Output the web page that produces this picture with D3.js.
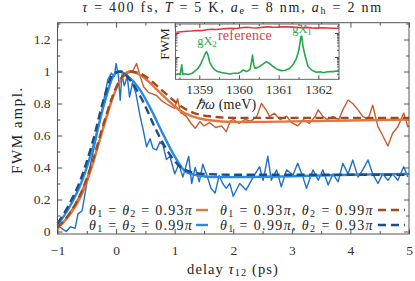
<!DOCTYPE html>
<html>
<head>
<meta charset="utf-8">
<script src="https://cdn.jsdelivr.net/npm/d3@7"></script>
<style>
    body { margin:0; background:#fff; }
    svg { display:block; }
    .axis path { display:none; }
    .axis line { stroke:#555; }
</style>
<script>
// main panel: delay (ps) vs FWM amplitude
var xTicks = [-1, 0, 1, 2, 3, 4, 5];
var xMinor = [-0.5, 0.5, 1.5, 2.5, 3.5, 4.5];
var yTicks = [0, 0.2, 0.4, 0.6, 0.8, 1, 1.2];
var yMinor = [0.1, 0.3, 0.5, 0.7, 0.9, 1.1, 1.3];

// smooth simulations
var oSolidT = [-1,-0.8,-0.6,-0.4,-0.2,0,0.1,0.22,0.35,0.5,0.7,0.9,1.1,1.3,1.6,2,3,4,5];
var oSolidV = [0.02,0.10,0.22,0.42,0.67,0.89,0.96,1.0,0.99,0.955,0.885,0.815,0.755,0.72,0.695,0.684,0.688,0.694,0.70];
var oDashT  = [-1,-0.8,-0.6,-0.4,-0.2,0,0.1,0.22,0.35,0.5,0.7,0.9,1.1,1.3,1.6,2,3,4,5];
var oDashV  = [0.025,0.11,0.24,0.44,0.69,0.90,0.965,1.0,0.995,0.97,0.91,0.845,0.785,0.745,0.72,0.71,0.71,0.71,0.71];
var bSolidT = [-1,-0.8,-0.6,-0.4,-0.2,-0.05,0.05,0.2,0.4,0.6,0.8,1.0,1.2,1.4,1.7,2,3,4,5];
var bSolidV = [0.04,0.15,0.30,0.52,0.80,0.97,1.0,0.97,0.89,0.76,0.61,0.47,0.37,0.35,0.34,0.34,0.345,0.355,0.36];
var bDashT  = [-1,-0.8,-0.6,-0.4,-0.2,-0.05,0.08,0.25,0.45,0.65,0.85,1.05,1.25,1.5,2,3,4,5];
var bDashV  = [0.05,0.17,0.33,0.56,0.84,0.985,1.0,0.94,0.82,0.66,0.52,0.42,0.375,0.36,0.355,0.355,0.355,0.355];

// noisy traces
var oNoisyT = [-1,-0.9,-0.8,-0.7,-0.6,-0.5,-0.4,-0.3,-0.2,-0.1,0,0.1,0.2,0.28,0.35,0.42,0.47,0.55,0.62,0.69,0.77,0.85,0.92,1.0,1.05,1.1,1.2,1.28,1.35,1.43,1.5,1.6,1.7,1.8,1.88,1.95,2.0,2.1,2.2,2.3,2.4,2.48,2.56,2.62,2.7,2.8,2.91,3.0,3.1,3.2,3.3,3.4,3.45,3.53,3.6,3.7,3.8,3.87,3.96,4.04,4.13,4.21,4.3,4.38,4.47,4.55,4.64,4.72,4.81,4.91,4.98,5.0];
var oNoisyV = [0.03,0.06,0.11,0.17,0.24,0.33,0.43,0.55,0.68,0.80,0.89,0.96,0.99,1.0,1.05,0.96,0.905,0.87,0.86,0.85,0.82,0.80,0.785,0.77,0.83,0.745,0.72,0.675,0.645,0.687,0.66,0.68,0.65,0.66,0.624,0.69,0.70,0.676,0.70,0.69,0.718,0.80,0.76,0.72,0.739,0.70,0.72,0.68,0.66,0.70,0.676,0.72,0.76,0.72,0.70,0.718,0.70,0.76,0.822,0.80,0.76,0.72,0.70,0.79,0.655,0.60,0.534,0.614,0.655,0.74,0.655,0.66];
var bNoisyT = [-1,-0.93,-0.85,-0.78,-0.7,-0.65,-0.58,-0.5,-0.42,-0.34,-0.26,-0.2,-0.14,-0.08,-0.03,0,0.04,0.07,0.1,0.14,0.19,0.23,0.28,0.34,0.41,0.46,0.52,0.58,0.63,0.69,0.75,0.8,0.86,0.92,1.0,1.07,1.14,1.24,1.29,1.35,1.42,1.48,1.55,1.62,1.69,1.76,1.82,1.88,1.94,2.0,2.11,2.22,2.34,2.45,2.51,2.59,2.65,2.74,2.82,2.91,3.02,3.1,3.19,3.25,3.36,3.45,3.53,3.62,3.7,3.79,3.87,3.96,4.04,4.13,4.21,4.3,4.38,4.47,4.55,4.64,4.72,4.81,4.91,4.98];
var bNoisyV = [0.04,0.02,0.0,0.03,0.02,0.11,0.13,0.30,0.45,0.58,0.72,0.84,0.95,0.99,0.97,1.05,0.97,0.82,0.98,0.91,0.97,0.84,0.93,0.86,0.72,0.64,0.53,0.58,0.52,0.51,0.56,0.54,0.45,0.47,0.36,0.42,0.34,0.47,0.30,0.40,0.31,0.42,0.35,0.27,0.24,0.35,0.30,0.27,0.30,0.22,0.30,0.26,0.34,0.405,0.32,0.47,0.32,0.385,0.28,0.385,0.353,0.426,0.34,0.27,0.385,0.32,0.385,0.29,0.36,0.31,0.426,0.36,0.447,0.34,0.385,0.447,0.36,0.30,0.36,0.32,0.36,0.32,0.405,0.34];

// inset: spectrum (meV), log amplitude
var iTicks = [1359, 1360, 1361, 1362];
var iMinor = [1358.5, 1359.5, 1360.5, 1361.5, 1362.5];
var gE = [1358.42,1358.47,1358.52,1358.555,1358.585,1358.64,1358.7,1358.76,1358.82,1358.88,1358.95,1359.02,1359.1,1359.15,1359.18,1359.22,1359.26,1359.32,1359.39,1359.46,1359.56,1359.66,1359.77,1359.87,1359.98,1360.05,1360.1,1360.15,1360.19,1360.24,1360.28,1360.32,1360.34,1360.37,1360.4,1360.46,1360.52,1360.6,1360.69,1360.76,1360.86,1360.96,1361.07,1361.17,1361.28,1361.37,1361.45,1361.51,1361.56,1361.58,1361.61,1361.66,1361.74,1361.84,1361.95,1362.05,1362.12,1362.2,1362.3,1362.38,1362.46,1362.52];
var gV = [0.018,0.020,0.0185,0.047,0.019,0.020,0.0185,0.0195,0.021,0.025,0.031,0.045,0.089,0.14,0.166,0.12,0.063,0.04,0.029,0.025,0.0224,0.021,0.0195,0.021,0.021,0.024,0.029,0.027,0.0245,0.027,0.031,0.07,0.12,0.05,0.034,0.036,0.04,0.05,0.063,0.055,0.04,0.031,0.027,0.028,0.034,0.05,0.089,0.2,0.7,0.75,0.3,0.12,0.04,0.028,0.023,0.024,0.022,0.0237,0.025,0.0245,0.026,0.025];
var rE = [1358.42,1358.55,1358.68,1358.8,1358.93,1359.05,1359.18,1359.3,1359.43,1359.55,1359.68,1359.8,1359.93,1360.06,1360.2,1360.32,1360.45,1360.58,1360.7,1360.83,1360.96,1361.08,1361.2,1361.33,1361.46,1361.58,1361.7,1361.83,1361.96,1362.1,1362.22,1362.35,1362.52];
var rV = [1.07,1.12,1.18,1.21,1.27,1.25,1.36,1.43,1.40,1.47,1.52,1.57,1.53,1.65,1.73,1.66,1.61,1.72,1.83,1.76,1.73,1.80,1.83,1.76,1.71,1.66,1.72,1.64,1.60,1.66,1.62,1.57,1.57];
</script>
</head>
<body>
<svg id="chart" width="415" height="281"></svg>
<script>
    var SERIF = "'Liberation Serif','Times New Roman',serif";
    var svg = d3.select("#chart").attr("font-family", SERIF);

    // text built from parts: {t, i (italic), s (subscript)}
    function rich(sel, parts) {
        var down = false;
        parts.forEach(function(p) {
            var ts = sel.append("tspan").text(p.t);
            if (p.i) ts.attr("font-style", "italic");
            if (p.s) {
                ts.attr("font-size", "0.72em");
                if (!down) { ts.attr("dy", "0.25em"); down = true; }
            } else if (down) { ts.attr("dy", "-0.18em"); down = false; }
        });
        return sel;
    }
    // make the text as wide as in the picture: grow the font up to maxFs, then spread letters
    function fit(sel, w, maxFs) {
        var fs = +sel.attr("font-size");
        var bw = sel.node().getBBox().width;
        if (!(bw > 0)) return sel;
        var nf = fs * w / bw;
        if (nf <= maxFs) { sel.attr("font-size", nf); return sel; }
        sel.attr("font-size", maxFs);
        bw = sel.node().getBBox().width;
        var n = sel.text().length;
        sel.attr("letter-spacing", ((w - bw) / n).toFixed(2));
        return sel;
    }
    function label(x0, y0, size, color, anchor) {
        return svg.append("text").attr("x", x0).attr("y", y0).attr("font-size", size)
            .attr("fill", color).attr("text-anchor", anchor || "middle");
    }
    function minusFmt(d) { return d < 0 ? "\u2212" + (-d) : String(d); }

    var x = d3.scaleLinear().domain([-1, 5]).range([57.5, 409]);
    var y = d3.scaleLinear().domain([-0.0156, 1.305]).range([234, 22.7]);

    svg.append("rect").attr("x", 57.5).attr("y", 22.7).attr("width", 351.5).attr("height", 211.3)
        .attr("fill", "#fff");

    function ticks(axisFn, scale, vals, size, fmt, pos, pad) {
        var a = axisFn(scale).tickValues(vals).tickSize(-size).tickPadding(pad)
            .tickFormat(fmt || function() { return ""; });
        var g = svg.append("g").attr("class", "axis").attr("transform", pos).call(a);
        g.attr("font-family", SERIF).attr("font-size", 13.5);
        g.selectAll("text").attr("fill", "#333");
    }
    ticks(d3.axisBottom, x, xTicks, 5, minusFmt, "translate(0,234)", 11);
    ticks(d3.axisBottom, x, xMinor, 3, null, "translate(0,234)", 11);
    ticks(d3.axisTop, x, xTicks, 5, null, "translate(0,22.7)", 3);
    ticks(d3.axisTop, x, xMinor, 3, null, "translate(0,22.7)", 3);
    ticks(d3.axisLeft, y, yTicks, 5, String, "translate(57.5,0)", 7);
    ticks(d3.axisLeft, y, yMinor, 3, null, "translate(57.5,0)", 7);
    ticks(d3.axisRight, y, yTicks, 5, null, "translate(409,0)", 3);
    ticks(d3.axisRight, y, yMinor, 3, null, "translate(409,0)", 3);

    var line = d3.line().x(function(d){ return x(d[0]); }).y(function(d){ return y(d[1]); });
    var smooth = d3.line().x(function(d){ return x(d[0]); }).y(function(d){ return y(d[1]); }).curve(d3.curveMonotoneX);

    var series = [
        {pts: d3.zip(oNoisyT, oNoisyV), c: "#c95a2b", w: 1.4, g: line},
        {pts: d3.zip(bNoisyT, bNoisyV), c: "#1f6fc4", w: 1.4, g: line},
        {pts: d3.zip(oSolidT, oSolidV), c: "#e0773f", w: 2.4, g: smooth},
        {pts: d3.zip(bSolidT, bSolidV), c: "#2b8ae0", w: 2.4, g: smooth},
        {pts: d3.zip(oDashT, oDashV), c: "#9f4a1f", w: 2.4, g: smooth, d: "8,4.5"},
        {pts: d3.zip(bDashT, bDashV), c: "#1b4d86", w: 2.4, g: smooth, d: "8,4.5"}
    ];
    series.forEach(function(s) {
        svg.append("path").attr("d", s.g(s.pts)).attr("fill", "none")
            .attr("stroke", s.c).attr("stroke-width", s.w)
            .attr("stroke-linejoin", "round")
            .attr("stroke-dasharray", s.d || null);
    });

    svg.append("rect").attr("x", 57.5).attr("y", 22.7).attr("width", 351.5).attr("height", 211.3)
        .attr("fill", "none").attr("stroke", "#555").attr("stroke-width", 1);

    // legend
    var legend = [
        {parts: [{t:"θ",i:1},{t:"1",s:1},{t:" = "},{t:"θ",i:1},{t:"2",s:1},{t:" = 0.93"},{t:"π",i:1}], c:"#e0773f", col:0, row:0},
        {parts: [{t:"θ",i:1},{t:"1",s:1},{t:" = 0.93"},{t:"π",i:1},{t:", "},{t:"θ",i:1},{t:"2",s:1},{t:" = 0.99"},{t:"π",i:1}], c:"#9f4a1f", col:1, row:0, d:"8,5"},
        {parts: [{t:"θ",i:1},{t:"1",s:1},{t:" = "},{t:"θ",i:1},{t:"2",s:1},{t:" = 0.99"},{t:"π",i:1}], c:"#2b8ae0", col:0, row:1},
        {parts: [{t:"θ",i:1},{t:"1",s:1},{t:" = 0.99"},{t:"π",i:1},{t:", "},{t:"θ",i:1},{t:"2",s:1},{t:" = 0.93"},{t:"π",i:1}], c:"#1b4d86", col:1, row:1, d:"8,5"}
    ];
    var colText = [193, 374], colW = [105, 155], colLine = [[196, 208], [378, 405]];
    legend.forEach(function(l) {
        var yy = 214.5 + l.row * 15;
        fit(rich(label(colText[l.col], yy, 13.5, "#222", "end"), l.parts), colW[l.col], 14);
        svg.append("line").attr("x1", colLine[l.col][0]).attr("x2", colLine[l.col][1])
            .attr("y1", yy - 4.5).attr("y2", yy - 4.5)
            .attr("stroke", l.c).attr("stroke-width", 2.4).attr("stroke-dasharray", l.d || null);
    });

    // title and axis labels
    fit(rich(label(232.5, 11.5, 13.5, "#222"),
        [{t:"τ",i:1},{t:" = 400 fs, "},{t:"T",i:1},{t:" = 5 K, "},{t:"a",i:1},{t:"e",s:1},{t:" = 8 nm, "},{t:"a",i:1},{t:"h",s:1},{t:" = 2 nm"}]), 301, 14);
    fit(rich(label(233, 273.5, 13.5, "#222"),
        [{t:"delay "},{t:"τ",i:1},{t:"12",s:1},{t:" (ps)"}]), 92, 14.5);
    fit(svg.append("text").attr("transform", "translate(21.5,130) rotate(-90)").attr("text-anchor", "middle")
        .attr("font-size", 13.5).attr("fill", "#222").text("FWM ampl."), 88, 15);

    // inset
    var xi = d3.scaleLinear().domain([1358.4, 1362.52]).range([175.5, 339]);
    var yi = d3.scaleLog().domain([Math.pow(10, -1.93), Math.pow(10, 0.375)]).range([79.3, 24]);
    svg.append("rect").attr("x", 175.5).attr("y", 24).attr("width", 163.5).attr("height", 55.3).attr("fill", "#fff");

    var iMajorY = [0.1, 1];
    var iMinorY = [0.02,0.03,0.04,0.05,0.06,0.07,0.08,0.09,0.2,0.3,0.4,0.5,0.6,0.7,0.8,0.9,2];
    ticks(d3.axisBottom, xi, iTicks, 4, String, "translate(0,79.3)", 5);
    ticks(d3.axisBottom, xi, iMinor, 2, null, "translate(0,79.3)", 5);
    ticks(d3.axisTop, xi, iTicks, 4, null, "translate(0,24)", 3);
    ticks(d3.axisTop, xi, iMinor, 2, null, "translate(0,24)", 3);
    ticks(d3.axisLeft, yi, iMajorY, 4, null, "translate(175.5,0)", 3);
    ticks(d3.axisLeft, yi, iMinorY, 2, null, "translate(175.5,0)", 3);
    ticks(d3.axisRight, yi, iMajorY, 4, null, "translate(339,0)", 3);
    ticks(d3.axisRight, yi, iMinorY, 2, null, "translate(339,0)", 3);

    var iline = d3.line().x(function(d){ return xi(d[0]); }).y(function(d){ return yi(d[1]); });
    svg.append("path").attr("d", iline(d3.zip(rE, rV))).attr("fill", "none")
        .attr("stroke", "#dc3a3f").attr("stroke-width", 1.6).attr("stroke-linejoin", "round");
    svg.append("path").attr("d", iline(d3.zip(gE, gV))).attr("fill", "none")
        .attr("stroke", "#25a84a").attr("stroke-width", 1.6).attr("stroke-linejoin", "round");
    svg.append("rect").attr("x", 175.5).attr("y", 24).attr("width", 163.5).attr("height", 55.3)
        .attr("fill", "none").attr("stroke", "#555").attr("stroke-width", 0.9);

    fit(label(245, 40, 13.5, "#dc3a3f").text("reference"), 54, 14);
    fit(rich(label(207, 45, 13, "#25a84a"), [{t:"gX"},{t:"2",s:1}]), 20, 13.5);
    fit(rich(label(302, 32.5, 13, "#25a84a"), [{t:"gX"},{t:"1",s:1}]), 20, 13.5);
    fit(svg.append("text").attr("transform", "translate(168.5,44) rotate(-90)").attr("text-anchor", "middle")
        .attr("font-size", 13).attr("fill", "#222").text("FWM"), 32, 13.5);
    fit(rich(label(226, 108.5, 13.5, "#222"), [{t:"ℏω",i:1},{t:" (meV)"}]), 61, 14);
</script>
</body>
</html>
